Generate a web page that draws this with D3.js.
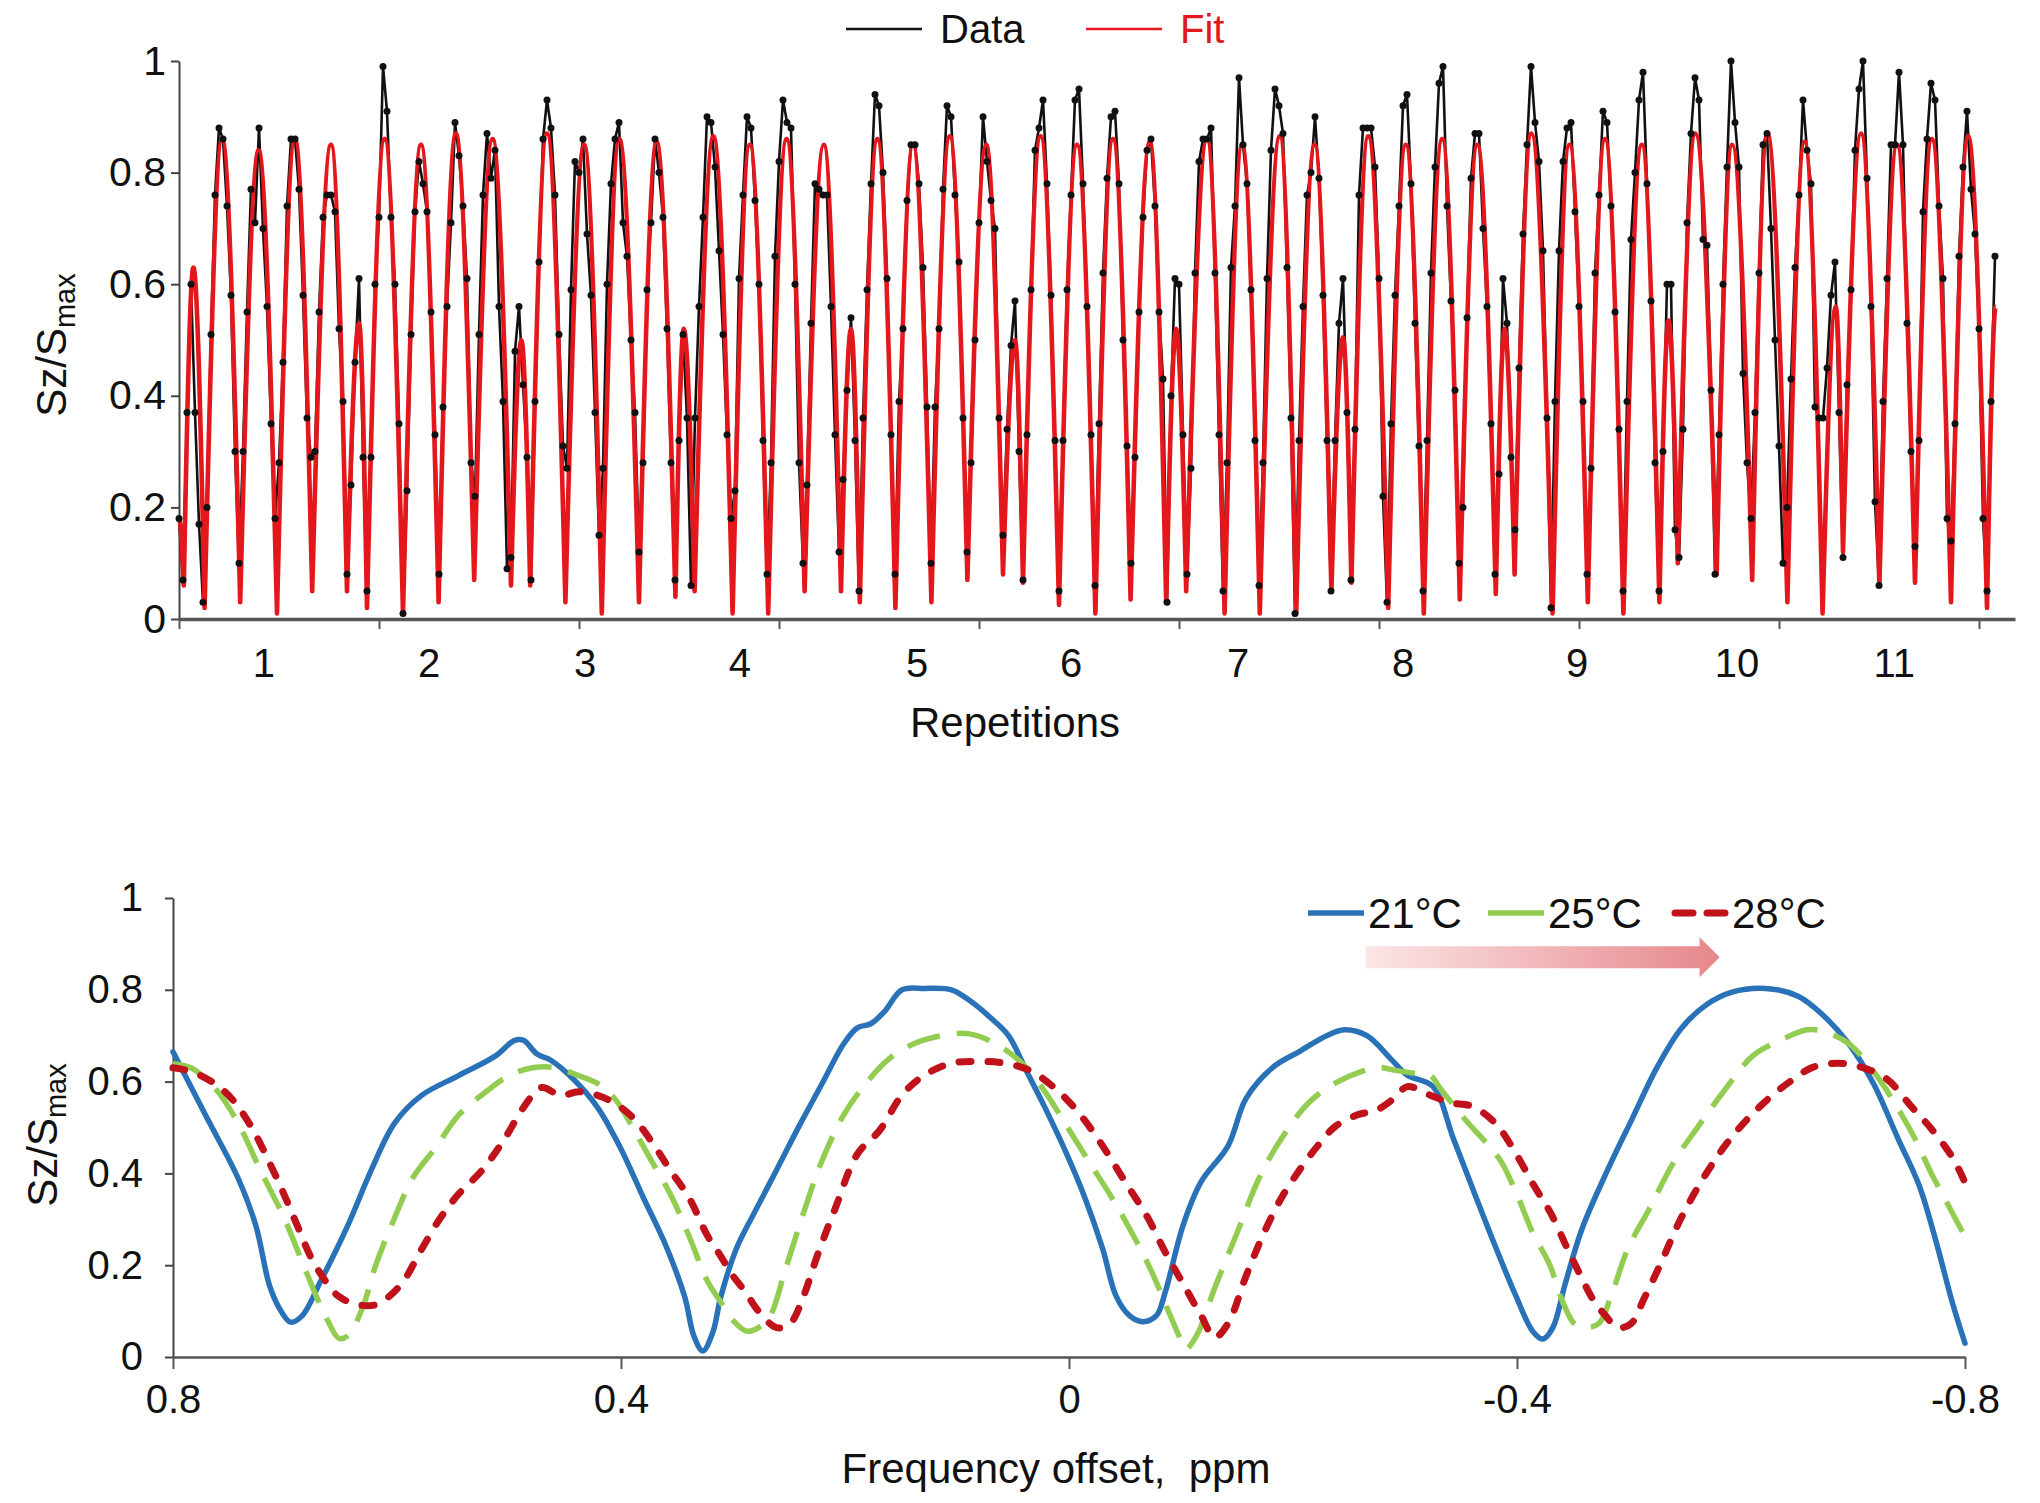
<!DOCTYPE html>
<html><head><meta charset="utf-8">
<script src="https://cdn.jsdelivr.net/npm/d3@7"></script>
<style>
body{margin:0;background:#fff}
svg{display:block}
text{font-family:"Liberation Sans",Arial,sans-serif;fill:#111}
</style>
</head><body>
<svg id="c" width="2040" height="1503"></svg>
<script>
// ---------- TOP PANEL DATA (index = sample number) ----------
const dataValues = [
0.18,0.07,0.37,0.60,0.37,0.17,0.03,0.20,0.51,0.76,
0.88,0.86,0.74,0.58,0.30,0.10,0.30,0.55,0.77,0.71,
0.88,0.70,0.56,0.35,0.18,0.28,0.46,0.74,0.86,0.86,
0.77,0.58,0.36,0.29,0.30,0.55,0.72,0.76,0.76,0.73,
0.52,0.39,0.08,0.24,0.46,0.61,0.29,0.05,0.29,0.60,
0.72,0.99,0.91,0.72,0.60,0.35,0.01,0.23,0.51,0.73,
0.82,0.78,0.73,0.55,0.33,0.08,0.38,0.56,0.71,0.89,
0.83,0.74,0.61,0.28,0.22,0.51,0.76,0.87,0.79,0.84,
0.56,0.39,0.09,0.11,0.48,0.56,0.42,0.29,0.07,0.39,
0.64,0.86,0.93,0.88,0.76,0.51,0.31,0.27,0.59,0.82,
0.80,0.86,0.69,0.58,0.37,0.15,0.27,0.60,0.78,0.86,
0.89,0.71,0.65,0.50,0.37,0.12,0.28,0.59,0.71,0.86,
0.80,0.72,0.52,0.28,0.07,0.32,0.51,0.36,0.06,0.36,
0.56,0.72,0.90,0.89,0.81,0.66,0.51,0.33,0.18,0.23,
0.61,0.76,0.90,0.88,0.75,0.60,0.32,0.08,0.28,0.65,
0.82,0.93,0.89,0.88,0.60,0.28,0.10,0.24,0.53,0.78,
0.77,0.76,0.76,0.56,0.33,0.12,0.25,0.41,0.54,0.32,
0.05,0.36,0.59,0.78,0.94,0.92,0.80,0.61,0.33,0.08,
0.39,0.52,0.75,0.85,0.85,0.78,0.63,0.38,0.10,0.38,
0.52,0.77,0.92,0.90,0.76,0.64,0.36,0.12,0.28,0.50,
0.71,0.90,0.82,0.75,0.70,0.36,0.15,0.34,0.49,0.57,
0.30,0.07,0.33,0.59,0.84,0.88,0.93,0.78,0.58,0.32,
0.05,0.32,0.59,0.76,0.93,0.95,0.78,0.56,0.33,0.06,
0.35,0.62,0.79,0.90,0.91,0.78,0.50,0.31,0.10,0.29,
0.55,0.72,0.84,0.86,0.74,0.55,0.43,0.03,0.40,0.61,
0.60,0.33,0.08,0.27,0.62,0.82,0.86,0.86,0.88,0.62,
0.33,0.05,0.28,0.63,0.74,0.97,0.85,0.78,0.59,0.32,
0.06,0.28,0.61,0.84,0.95,0.92,0.87,0.63,0.36,0.01,
0.32,0.56,0.76,0.80,0.90,0.79,0.58,0.32,0.05,0.32,
0.53,0.61,0.37,0.07,0.34,0.76,0.88,0.88,0.88,0.81,
0.61,0.22,0.03,0.35,0.58,0.74,0.92,0.94,0.78,0.53,
0.31,0.05,0.32,0.62,0.81,0.96,0.99,0.74,0.57,0.41,
0.10,0.20,0.54,0.79,0.87,0.87,0.70,0.56,0.35,0.08,
0.26,0.61,0.53,0.29,0.16,0.45,0.69,0.85,0.99,0.89,
0.82,0.66,0.36,0.02,0.39,0.66,0.82,0.88,0.89,0.73,
0.56,0.39,0.08,0.27,0.62,0.76,0.91,0.89,0.74,0.55,
0.34,0.05,0.39,0.68,0.80,0.93,0.98,0.78,0.57,0.28,
0.05,0.30,0.60,0.60,0.16,0.11,0.34,0.71,0.87,0.97,
0.93,0.68,0.67,0.41,0.08,0.33,0.60,0.81,1.00,0.89,
0.81,0.44,0.28,0.18,0.37,0.62,0.85,0.87,0.70,0.50,
0.31,0.10,0.20,0.43,0.63,0.76,0.93,0.84,0.78,0.38,
0.36,0.36,0.45,0.58,0.64,0.37,0.11,0.42,0.59,0.84,
0.95,1.00,0.79,0.56,0.21,0.06,0.39,0.61,0.85,0.85,
0.98,0.85,0.53,0.30,0.13,0.32,0.73,0.86,0.96,0.93,
0.74,0.61,0.18,0.14,0.35,0.65,0.81,0.91,0.77,0.69,
0.52,0.18,0.05,0.39,0.65
];
// Fit curve: successive extrema (troughs / peaks)
const fitX = [0,1.2,3.6,6.4,10.8,15.3,19.9,24.5,29.0,33.3,38.0,42.0,45.0,47.0,51.4,56.0,60.5,64.9,69.2,73.8,
78.4,83.0,85.6,87.8,92.0,96.6,101.3,105.7,110.1,115.0,119.4,124.1,126.2,128.9,133.6,138.4,142.7,147.3,151.9,156.4,
161.2,165.5,168.0,170.2,174.6,179.1,183.5,188.1,192.7,197.1,201.8,206.0,209.0,211.0,215.4,220.0,224.5,229.1,233.5,237.9,
242.7,246.8,249.3,251.8,257.0,261.4,265.8,270.2,275.2,279.3,283.9,288.1,291.0,293.1,297.3,302.3,306.7,311.2,315.8,320.2,
324.6,329.2,331.4,333.9,338.1,343.4,347.6,352.2,356.5,361.1,365.7,370.1,372.4,374.7,379.1,384.4,388.3,393.3,397.1,402.1,
406.4,410.9,414.2,416.0,420.5,425.1,429.5,434.0,438.2,443.0,447.3,452.0,454.2];
const fitY = [0.18,0.06,0.63,0.02,0.86,0.03,0.84,0.01,0.86,0.05,0.85,0.05,0.53,0.02,0.86,0.01,0.85,0.03,0.87,0.07,
0.86,0.06,0.50,0.06,0.87,0.03,0.85,0.01,0.86,0.03,0.855,0.04,0.52,0.05,0.865,0.01,0.85,0.01,0.86,0.05,
0.85,0.05,0.52,0.03,0.86,0.02,0.85,0.03,0.865,0.07,0.85,0.08,0.50,0.065,0.865,0.025,0.85,0.01,0.86,0.035,
0.855,0.03,0.52,0.05,0.86,0.01,0.85,0.01,0.865,0.01,0.85,0.05,0.505,0.065,0.865,0.02,0.85,0.01,0.86,0.035,
0.85,0.045,0.52,0.08,0.87,0.01,0.85,0.03,0.86,0.01,0.85,0.03,0.535,0.10,0.87,0.08,0.85,0.07,0.87,0.03,
0.855,0.01,0.56,0.12,0.87,0.06,0.85,0.065,0.86,0.03,0.865,0.02,0.56];
const topXTicks = [0,50,100,150,200,250,300,350,400,450];
const repLabels = ["1","2","3","4","5","6","7","8","9","10","11"];
const repLabelPos = [21.2,62.5,101.5,140.2,184.5,223,264.8,306,349.5,389.5,428.8];
const yTickVals = [0,0.2,0.4,0.6,0.8,1];
const topLegend = ["Data","Fit"];

// ---------- BOTTOM PANEL DATA ----------
const freq21 = [0.80,0.771,0.742,0.726,0.714,0.705,0.695,0.685,0.668,0.644,0.623,0.602,0.578,0.545,0.512,0.495,0.487,0.475,0.463,0.442,
0.421,0.401,0.380,0.360,0.343,0.335,0.327,0.318,0.311,0.297,0.281,0.261,0.241,0.221,0.201,0.189,0.177,0.165,0.149,0.129,
0.105,0.089,0.070,0.054,0.038,0.022,0.002,-0.014,-0.030,-0.042,-0.054,-0.066,-0.078,-0.086,-0.102,-0.118,-0.142,-0.158,-0.182,-0.206,
-0.230,-0.246,-0.266,-0.2875,-0.302,-0.325,-0.343,-0.362,-0.380,-0.399,-0.414,-0.423,-0.432,-0.443,-0.458,-0.481,-0.503,-0.525,-0.547,-0.570,
-0.592,-0.622,-0.651,-0.674,-0.696,-0.718,-0.740,-0.759,-0.774,-0.789,-0.800];
const val21 = [0.665,0.527,0.39,0.286,0.157,0.106,0.076,0.089,0.166,0.286,0.407,0.51,0.57,0.613,0.656,0.69,0.69,0.66,0.647,0.604,
0.544,0.458,0.347,0.243,0.13,0.046,0.013,0.054,0.13,0.236,0.314,0.408,0.503,0.593,0.683,0.717,0.726,0.752,0.80,0.803,
0.80,0.777,0.739,0.70,0.623,0.546,0.442,0.348,0.236,0.133,0.09,0.077,0.09,0.142,0.288,0.382,0.46,0.563,0.631,0.666,
0.70,0.713,0.70,0.649,0.614,0.589,0.477,0.357,0.245,0.133,0.056,0.039,0.064,0.159,0.279,0.408,0.52,0.631,0.717,0.769,
0.795,0.803,0.786,0.743,0.683,0.597,0.477,0.374,0.253,0.116,0.03];
const freq25 = [0.80,0.784,0.763,0.742,0.722,0.701,0.685,0.672,0.662,0.652,0.644,0.631,0.619,0.602,0.586,0.565,0.545,0.520,0.500,0.479,
0.458,0.438,0.421,0.405,0.388,0.372,0.356,0.339,0.323,0.311,0.300,0.287,0.269,0.253,0.237,0.221,0.201,0.181,0.161,0.138,
0.114,0.089,0.066,0.042,0.022,0.002,-0.018,-0.038,-0.058,-0.074,-0.086,-0.098,-0.104,-0.114,-0.130,-0.150,-0.170,-0.190,-0.214,-0.238,
-0.262,-0.277,-0.290,-0.306,-0.322,-0.333,-0.356,-0.375,-0.386,-0.401,-0.414,-0.429,-0.440,-0.451,-0.460,-0.473,-0.484,-0.499,-0.518,-0.540,
-0.562,-0.585,-0.611,-0.637,-0.659,-0.674,-0.696,-0.718,-0.737,-0.755,-0.770,-0.785,-0.800];
const val25 = [0.639,0.63,0.587,0.51,0.407,0.304,0.209,0.132,0.08,0.041,0.046,0.106,0.20,0.304,0.39,0.458,0.527,0.579,0.613,0.63,
0.63,0.613,0.596,0.561,0.493,0.424,0.355,0.262,0.166,0.12,0.08,0.056,0.082,0.193,0.314,0.425,0.528,0.597,0.649,0.683,
0.70,0.704,0.683,0.64,0.58,0.503,0.425,0.348,0.262,0.185,0.116,0.047,0.017,0.047,0.15,0.27,0.391,0.477,0.554,0.597,
0.623,0.631,0.625,0.619,0.614,0.58,0.511,0.46,0.425,0.348,0.271,0.202,0.125,0.073,0.064,0.073,0.133,0.236,0.322,0.425,
0.503,0.58,0.657,0.692,0.713,0.709,0.683,0.623,0.554,0.477,0.40,0.331,0.262];
const freq28 = [0.80,0.784,0.763,0.747,0.730,0.714,0.701,0.689,0.677,0.664,0.652,0.635,0.619,0.607,0.594,0.578,0.561,0.545,0.524,0.504,
0.487,0.471,0.454,0.438,0.421,0.405,0.388,0.372,0.356,0.339,0.323,0.311,0.301,0.289,0.277,0.261,0.249,0.237,0.225,0.209,
0.189,0.169,0.149,0.129,0.105,0.081,0.057,0.034,0.010,-0.010,-0.030,-0.050,-0.070,-0.086,-0.102,-0.118,-0.130,-0.142,-0.158,-0.174,
-0.190,-0.206,-0.222,-0.238,-0.258,-0.274,-0.290,-0.302,-0.322,-0.340,-0.360,-0.380,-0.395,-0.415,-0.430,-0.445,-0.457,-0.468,-0.479,-0.490,
-0.502,-0.513,-0.528,-0.547,-0.569,-0.591,-0.617,-0.642,-0.664,-0.686,-0.708,-0.730,-0.752,-0.771,-0.789,-0.800];
const val28 = [0.63,0.622,0.596,0.561,0.501,0.424,0.355,0.286,0.218,0.166,0.132,0.114,0.114,0.132,0.166,0.235,0.304,0.355,0.407,0.475,
0.544,0.587,0.57,0.578,0.57,0.552,0.518,0.467,0.407,0.346,0.265,0.22,0.18,0.142,0.099,0.064,0.073,0.133,0.219,0.322,
0.442,0.494,0.571,0.614,0.64,0.644,0.64,0.623,0.58,0.528,0.46,0.382,0.305,0.228,0.159,0.09,0.043,0.073,0.176,0.27,
0.348,0.408,0.46,0.503,0.528,0.537,0.563,0.589,0.571,0.554,0.546,0.511,0.46,0.374,0.314,0.236,0.176,0.125,0.09,0.064,
0.073,0.125,0.202,0.305,0.40,0.477,0.546,0.597,0.631,0.64,0.631,0.606,0.546,0.494,0.434,0.38];
const freqTicks = [0.8,0.4,0,-0.4,-0.8];
const tempLabels = ["21°C","25°C","28°C"];
const tempColors = ["#2a72b8","#92cd52","#c0121b"];

// ---------- custom curve: quarter-sine shaped segments between extrema ----------
function QuarterSine(ctx){ this._ctx = ctx; }
QuarterSine.prototype = {
  areaStart(){}, areaEnd(){},
  lineStart(){ this._p = 0; },
  lineEnd(){},
  point(x, y){
    x = +x; y = +y;
    if (!this._p) { this._p = 1; this._ctx.moveTo(x, y); }
    else {
      const x0 = this._x, y0 = this._y, dx = x - x0, dy = y - y0, k = 0.5236;
      if (dy < 0) this._ctx.bezierCurveTo(x0 + dx/3, y0 + dy*k, x0 + 2*dx/3, y, x, y);
      else this._ctx.bezierCurveTo(x0 + dx/3, y0, x0 + 2*dx/3, y0 + dy*(1-k), x, y);
    }
    this._x = x; this._y = y;
  }
};
const curveQuarterSine = ctx => new QuarterSine(ctx);

const svg = d3.select("#c");
const FS = 40;

// ===================== TOP PANEL =====================
const xT = d3.scaleLinear().domain([0, 459]).range([179, 2015]);
const yT = d3.scaleLinear().domain([0, 1]).range([619, 61]);
const gT = svg.append("g");

const yAxT = gT.append("g").attr("transform", `translate(${xT(0)},0)`)
  .call(d3.axisLeft(yT).tickValues(yTickVals).tickSize(8).tickSizeOuter(0).tickPadding(5).tickFormat(d => String(d)));
yAxT.select(".domain").attr("stroke", "#444").attr("stroke-width", 2);
yAxT.selectAll(".tick line").attr("stroke", "#444").attr("stroke-width", 2);
yAxT.selectAll("text").attr("font-size", 41).attr("font-family", "Liberation Sans, Arial").attr("fill", "#111");

const xAxT = gT.append("g").attr("transform", `translate(0,${yT(0)})`)
  .call(d3.axisBottom(xT).tickValues(topXTicks).tickSize(10).tickSizeOuter(0).tickFormat(""));
xAxT.select(".domain").attr("stroke", "#555").attr("stroke-width", 3.5);
xAxT.selectAll(".tick line").attr("stroke", "#555").attr("stroke-width", 2);

const dataPts = dataValues.map((v, i) => [i, v]);
gT.append("path").datum(dataPts)
  .attr("d", d3.line().x(d => xT(d[0])).y(d => yT(d[1])))
  .attr("fill", "none").attr("stroke", "#111").attr("stroke-width", 2.6).attr("stroke-linejoin", "round");
const fitPts = fitX.map((x, i) => [x, fitY[i]]);
gT.append("path").datum(fitPts)
  .attr("d", d3.line().x(d => xT(d[0])).y(d => yT(d[1])).curve(curveQuarterSine))
  .attr("fill", "none").attr("stroke", "#e3171c").attr("stroke-width", 4.6).attr("stroke-linejoin", "round");
gT.append("g").selectAll("circle").data(dataPts).join("circle")
  .attr("cx", d => xT(d[0])).attr("cy", d => yT(d[1])).attr("r", 3.5).attr("fill", "#111");

gT.append("g").selectAll("text").data(repLabels).join("text")
  .attr("x", (d, i) => xT(repLabelPos[i])).attr("y", 677)
  .attr("text-anchor", "middle").attr("font-size", FS).text(d => d);
gT.append("text").attr("x", 1015).attr("y", 737).attr("text-anchor", "middle")
  .attr("font-size", 42).text("Repetitions");
const ylT = gT.append("text").attr("transform", "translate(66,345) rotate(-90)")
  .attr("text-anchor", "middle").attr("font-size", 42);
ylT.append("tspan").text("Sz/S");
ylT.append("tspan").attr("font-size", 29).attr("dy", 9).text("max");

// top legend
const lgT = gT.append("g");
lgT.append("line").attr("x1", 846).attr("x2", 922).attr("y1", 29).attr("y2", 29).attr("stroke", "#111").attr("stroke-width", 2.5);
lgT.append("text").attr("x", 940).attr("y", 43).attr("font-size", FS).text(topLegend[0]);
lgT.append("line").attr("x1", 1086).attr("x2", 1162).attr("y1", 29).attr("y2", 29).attr("stroke", "#e3171c").attr("stroke-width", 2.5);
lgT.append("text").attr("x", 1180).attr("y", 43).attr("font-size", FS).style("fill", "#e3171c").text(topLegend[1]);

// ===================== BOTTOM PANEL =====================
const xB = d3.scaleLinear().domain([0.8, -0.8]).range([173, 1965]);
const yB = d3.scaleLinear().domain([0, 1]).range([1357, 898]);
const gB = svg.append("g");

const yAxB = gB.append("g").attr("transform", `translate(${xB(0.8)},0)`)
  .call(d3.axisLeft(yB).tickValues(yTickVals).tickSize(8).tickSizeOuter(0).tickPadding(22).tickFormat(d => String(d)));
yAxB.select(".domain").attr("stroke", "#444").attr("stroke-width", 2);
yAxB.selectAll(".tick line").attr("stroke", "#444").attr("stroke-width", 2);
yAxB.selectAll("text").attr("font-size", FS).attr("font-family", "Liberation Sans, Arial").attr("fill", "#111");

const xAxB = gB.append("g").attr("transform", `translate(0,${yB(0)})`)
  .call(d3.axisBottom(xB).tickValues(freqTicks).tickSize(12).tickSizeOuter(0).tickPadding(16).tickFormat(d => String(d)));
xAxB.select(".domain").attr("stroke", "#555").attr("stroke-width", 2.5);
xAxB.selectAll(".tick line").attr("stroke", "#555").attr("stroke-width", 2);
xAxB.selectAll("text").attr("font-size", FS).attr("font-family", "Liberation Sans, Arial").attr("fill", "#111");

const lineB = d3.line().x(d => xB(d[0])).y(d => yB(d[1])).curve(d3.curveCatmullRom.alpha(0.5));
const series = [
  {f: freq21, v: val21, c: tempColors[0], w: 5.5, dash: null, cap: "round"},
  {f: freq25, v: val25, c: tempColors[1], w: 5.5, dash: "34,17", cap: "butt"},
  {f: freq28, v: val28, c: tempColors[2], w: 7, dash: "12,17", cap: "round"}
];
series.forEach(s => {
  gB.append("path").datum(s.f.map((x, i) => [x, s.v[i]]))
    .attr("d", lineB).attr("fill", "none").attr("stroke", s.c).attr("stroke-width", s.w)
    .attr("stroke-dasharray", s.dash).attr("stroke-linecap", s.cap).attr("stroke-linejoin", "round");
});

gB.append("text").attr("x", 1056).attr("y", 1483).attr("text-anchor", "middle")
  .attr("font-size", 42).style("white-space", "pre").text("Frequency offset,  ppm");
const ylB = gB.append("text").attr("transform", "translate(57,1135) rotate(-90)")
  .attr("text-anchor", "middle").attr("font-size", 42);
ylB.append("tspan").text("Sz/S");
ylB.append("tspan").attr("font-size", 29).attr("dy", 9).text("max");

// legend
const legX = [1308, 1488, 1672];
const lgB = gB.append("g");
tempLabels.forEach((t, i) => {
  const l = lgB.append("line").attr("x1", legX[i]).attr("x2", legX[i] + 56).attr("y1", 913).attr("y2", 913)
    .attr("stroke", tempColors[i]).attr("stroke-width", i === 2 ? 7 : 5.5);
  if (i === 2) l.attr("stroke-dasharray", "18,14").attr("stroke-linecap", "round").attr("x1", legX[i] + 3);
  lgB.append("text").attr("x", legX[i] + 60).attr("y", 928).attr("font-size", 42).text(t);
});

// gradient arrow (temperature increase)
const defs = svg.append("defs");
const grad = defs.append("linearGradient").attr("id", "ag").attr("gradientUnits", "userSpaceOnUse")
  .attr("x1", xB(-0.265)).attr("x2", xB(-0.581)).attr("y1", 0).attr("y2", 0);
grad.append("stop").attr("offset", 0).attr("stop-color", "#fbe6e6");
grad.append("stop").attr("offset", 1).attr("stop-color", "#e6878b");
const ax0 = xB(-0.265), axh = xB(-0.563), axt = xB(-0.581), ay = yB(0.871);
gB.append("path")
  .attr("d", `M${ax0},${ay-11}L${axh},${ay-11}L${axh},${ay-20}L${axt},${ay}L${axh},${ay+20}L${axh},${ay+11}L${ax0},${ay+11}Z`)
  .attr("fill", "url(#ag)");
</script>
</body></html>
